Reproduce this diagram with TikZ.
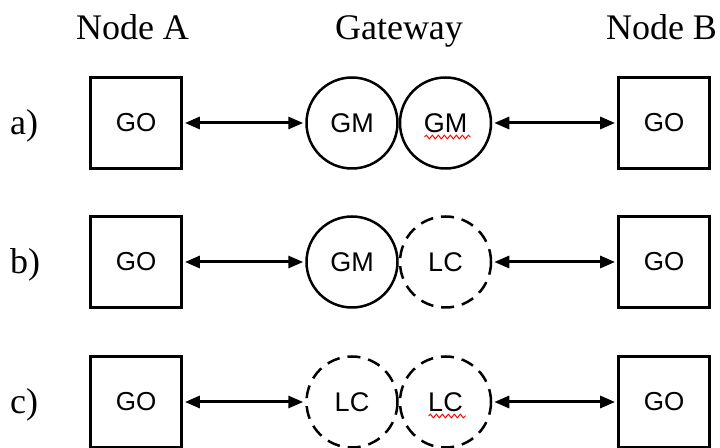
\documentclass[tikz,border=0pt]{standalone}
\usepackage{fontspec}
\setmainfont{Liberation Serif}
\setsansfont{Liberation Sans}
\usetikzlibrary{arrows.meta,decorations.pathmorphing}
\begin{document}
\begin{tikzpicture}[x=1pt,y=1pt,
  gobox/.style={draw,line width=2.8pt,minimum size=91pt,inner sep=0pt,font=\sffamily\fontsize{26}{26}\selectfont},
  gmcirc/.style={circle,draw,line width=2.5pt,minimum size=91pt,inner sep=0pt,font=\sffamily\fontsize{27}{27}\selectfont},
  lccirc/.style={gmcirc,dash pattern=on 13pt off 8pt},
  head/.style={anchor=base,inner sep=0pt,font=\fontsize{36}{36}\selectfont},
  rowlab/.style={anchor=base west,inner sep=0pt,font=\fontsize{36}{36}\selectfont},
  link/.style={{Triangle[length=15pt,width=12pt]}-{Triangle[length=15pt,width=12pt]},line width=3pt,shorten <=2pt,shorten >=2pt},
  typo/.style={draw=red,line width=1pt,decorate,decoration={snake,amplitude=1.8pt,segment length=6pt}}]
\clip (0,0) rectangle (720,447);

% column heads
\node[head] (headA) at (132.5,407) {Node A};
\node[head] (headG) at (399,407) {Gateway};
\node[head] (headB) at (661.5,407) {Node B};

% row a)
\node[rowlab] (laba) at (10,312) {a)};
\node[gobox] (aA) at (136,324) {GO};
\node[gmcirc] (aG1) at (352,324) {GM};
\node[gmcirc] (aG2) at (445.5,324) {GM};
\node[gobox] (aB) at (664,324) {GO};
\draw[link] (aA) -- (aG1);
\draw[link] (aG2) -- (aB);
\draw[typo] ([xshift=-21pt,yshift=-14pt]aG2.center) -- ([xshift=25pt,yshift=-14pt]aG2.center);

% row b)
\node[rowlab] (labb) at (10,173) {b)};
\node[gobox] (bA) at (136,185) {GO};
\node[gmcirc] (bG1) at (352,185) {GM};
\node[lccirc] (bG2) at (445.5,185) {LC};
\node[gobox] (bB) at (664,185) {GO};
\draw[link] (bA) -- (bG1);
\draw[link] (bG2) -- (bB);

% row c)
\node[rowlab] (labc) at (10,33) {c)};
\node[gobox] (cA) at (136,45) {GO};
\node[lccirc] (cG1) at (352,45) {LC};
\node[lccirc] (cG2) at (445.5,45) {LC};
\node[gobox] (cB) at (664,45) {GO};
\draw[link] (cA) -- (cG1);
\draw[link] (cG2) -- (cB);
\draw[typo] ([xshift=-17pt,yshift=-14pt]cG2.center) -- ([xshift=20pt,yshift=-14pt]cG2.center);
\end{tikzpicture}
\end{document}
